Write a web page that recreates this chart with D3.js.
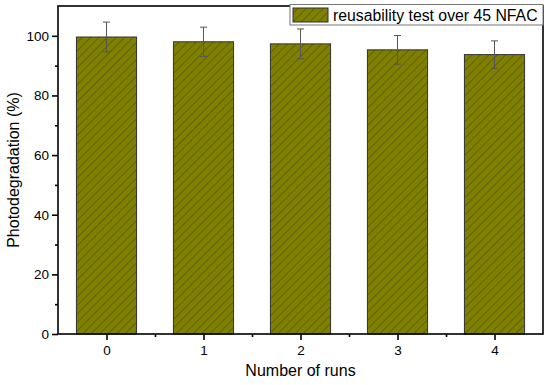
<!DOCTYPE html>
<html><head><meta charset="utf-8">
<script src="https://cdn.jsdelivr.net/npm/d3@7"></script>
<style>body{margin:0;background:#fff}svg{display:block}text{font-family:Arial,"Liberation Sans",sans-serif}</style>
</head><body>
<script>
const categories = [0, 1, 2, 3, 4];
const values = [99.6, 98.0, 97.3, 95.3, 93.7];
const errors = [5.0, 4.9, 5.0, 4.8, 4.6];
const yTicks = [0, 20, 40, 60, 80, 100];
const yMinor = [10, 30, 50, 70, 90];
const xMinor = [0.5, 1.5, 2.5, 3.5];
const legendLabel = "reusability test over 45 NFAC";

const W = 550, H = 385;
const m = {l: 58, r: 7, t: 6, b: 51};
const svg = d3.select("body").append("svg").attr("width", W).attr("height", H);
const defs = svg.append("defs");
const pat = defs.append("pattern").attr("id", "hatch").attr("patternUnits", "userSpaceOnUse")
  .attr("width", 6).attr("height", 6).attr("patternTransform", "rotate(45)");
pat.append("rect").attr("width", 6).attr("height", 6).attr("fill", "#808000");
pat.append("line").attr("x1", 0).attr("y1", 0).attr("x2", 0).attr("y2", 6)
  .attr("stroke", "#3b3b10").attr("stroke-width", 0.9);

const x = d3.scaleLinear().domain([-0.5, 4.5]).range([m.l, W - m.r]);
const y = d3.scaleLinear().domain([0, 110]).range([H - m.b, m.t]);
const bw = (x(1) - x(0)) * 0.62;

svg.selectAll("rect.bar").data(categories).enter().append("rect").attr("class", "bar")
  .attr("x", (d) => x(d) - bw / 2).attr("width", bw)
  .attr("y", (d, i) => y(values[i])).attr("height", (d, i) => y(0) - y(values[i]))
  .attr("fill", "url(#hatch)").attr("stroke", "#333").attr("stroke-width", 1);

const eg = svg.append("g").attr("stroke", "#555").attr("stroke-width", 1);
categories.forEach((c, i) => {
  const cx = x(c);
  eg.append("line").attr("x1", cx).attr("x2", cx).attr("y1", y(values[i] + errors[i])).attr("y2", y(values[i] - errors[i]));
  [values[i] + errors[i], values[i] - errors[i]].forEach(v => {
    eg.append("line").attr("x1", cx - 3.5).attr("x2", cx + 3.5).attr("y1", y(v)).attr("y2", y(v));
  });
});

// frame
svg.append("rect").attr("x", m.l).attr("y", m.t).attr("width", W - m.r - m.l).attr("height", H - m.b - m.t)
  .attr("fill", "none").attr("stroke", "#000").attr("stroke-width", 1.6);

// axes
const yAx = svg.append("g").attr("transform", `translate(${m.l},0)`)
  .call(d3.axisLeft(y).tickValues(yTicks).tickSize(6).tickPadding(3));
yAx.select(".domain").remove();
yAx.selectAll("line").attr("stroke-width", 1.6);
yAx.selectAll("text").attr("font-size", 13.5).attr("fill", "#000");
const yAxm = svg.append("g").attr("transform", `translate(${m.l},0)`)
  .call(d3.axisLeft(y).tickValues(yMinor).tickSize(3).tickFormat(""));
yAxm.select(".domain").remove();
yAxm.selectAll("line").attr("stroke-width", 1.6);

const xAx = svg.append("g").attr("transform", `translate(0,${H - m.b})`)
  .call(d3.axisBottom(x).tickValues(categories).tickSize(6).tickPadding(5).tickFormat(d3.format("d")));
xAx.select(".domain").remove();
xAx.selectAll("line").attr("stroke-width", 1.6);
xAx.selectAll("text").attr("font-size", 13.5).attr("fill", "#000");
const xAxm = svg.append("g").attr("transform", `translate(0,${H - m.b})`)
  .call(d3.axisBottom(x).tickValues(xMinor).tickSize(3).tickFormat(""));
xAxm.select(".domain").remove();
xAxm.selectAll("line").attr("stroke-width", 1.6);

svg.append("text").attr("x", (m.l + W - m.r) / 2).attr("y", 376).attr("text-anchor", "middle")
  .attr("font-size", 16).text("Number of runs");
svg.append("text").attr("transform", `translate(19,${(m.t + H - m.b) / 2}) rotate(-90)`)
  .attr("text-anchor", "middle").attr("font-size", 16).text("Photodegradation (%)");

// legend
const lg = svg.append("g");
lg.append("rect").attr("x", 290).attr("y", 4.5).attr("width", 253).attr("height", 20.5)
  .attr("fill", "#fff").attr("stroke", "#777").attr("stroke-width", 1);
lg.append("rect").attr("x", 293).attr("y", 8).attr("width", 35).attr("height", 14)
  .attr("fill", "url(#hatch)").attr("stroke", "#333").attr("stroke-width", 1);
lg.append("text").attr("x", 333).attr("y", 20.5).attr("font-size", 15.8).text(legendLabel);
</script>
</body></html>
